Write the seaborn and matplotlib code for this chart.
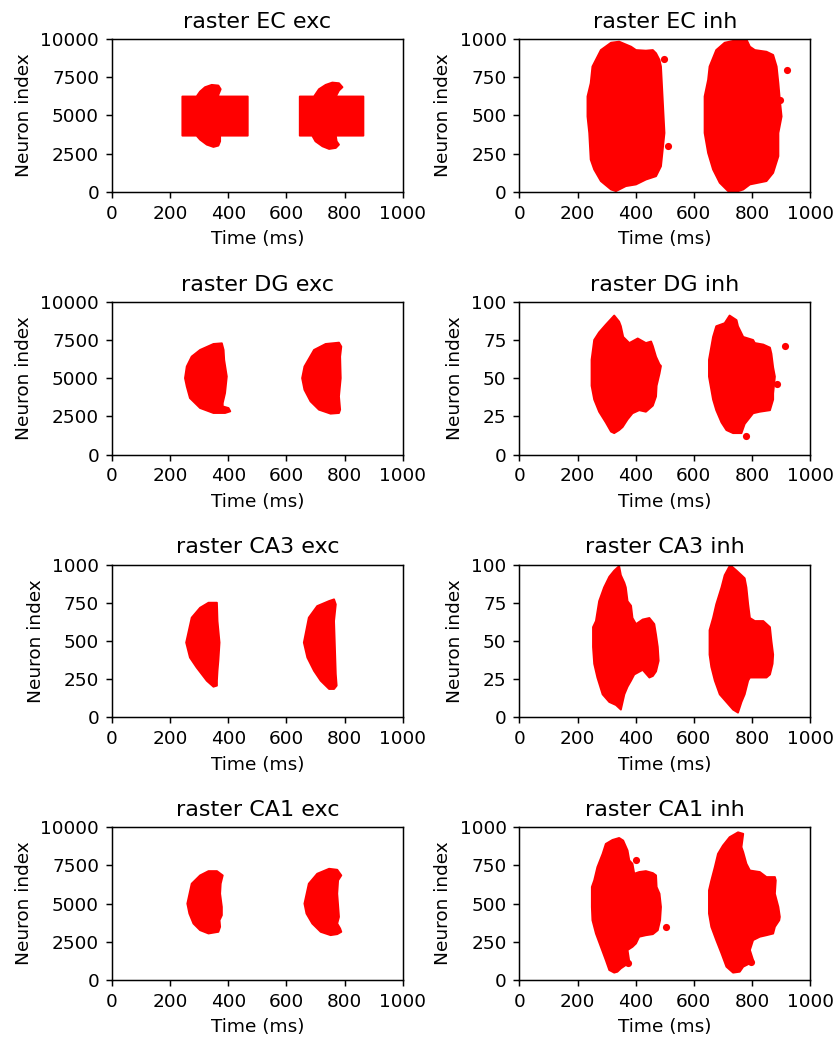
import matplotlib
matplotlib.use('Agg')
import matplotlib.pyplot as plt
import numpy as np
import seaborn as sns

# outline of each spike cloud (time ms, neuron index)
ec_exc_1 = [(242,6239),(291,6239),(303,6565),(320,6848),(343,7000),(366,6957),(374,6717),(366,6348),
            (366,6239),(467,6239),(467,3674),(372,3674),(372,3304),(366,3022),(349,2935),(326,3087),
            (303,3413),(291,3674),(242,3674)]
ec_exc_2 = [(646,6239),(695,6239),(712,6717),(735,7000),(758,7152),(781,7109),(793,6848),(781,6630),
            (770,6239),(865,6239),(865,3674),(770,3674),(773,3304),(781,3087),(770,2870),(747,2804),
            (724,2978),(700,3304),(689,3674),(646,3674)]
ec_inh_1 = [(251,820),(280,928),(315,976),(343,983),(384,950),(401,928),(435,924),(459,928),(470,907),
            (482,863),(487,820),(493,602),(499,385),(487,167),(470,102),(435,80),(401,48),(366,37),
            (332,4),(315,15),(280,70),(257,146),(245,211),(240,385),(234,493),(234,624),(245,711)]
ec_inh_2 = [(654,820),(677,928),(706,976),(747,993),(781,998),(793,950),(810,928),(850,917),(873,896),
            (885,820),(891,711),(896,602),(902,493),(891,385),(891,233),(873,124),(850,70),(793,48),
            (770,15),(747,0),(718,4),(689,59),(666,146),(649,254),(637,385),(637,624),(649,733)]
ec_inh_dots = [(499,867),(510,298),(919,798),(896,602)]

dg_exc_1 = [(251,5000),(257,5761),(274,6413),(303,6848),(349,7239),(378,7283),(384,6848),(386,6196),
            (395,5109),(389,4022),(381,3370),(381,3152),(401,3043),(407,2826),(389,2717),(349,2717),
            (303,3043),(268,3696),(257,4457)]
dg_exc_2 = [(654,5000),(662,5761),(695,6848),(735,7239),(781,7326),(789,7065),(785,6413),(787,5000),
            (781,3804),(785,2935),(781,2717),(752,2674),(712,2935),(683,3478),(662,4239)]
dg_inh_1 = [(248,62),(257,75),(274,80),(297,85),(326,91),(343,87),(349,84),(357,77),(378,73),(407,76),
            (435,73),(453,74),(459,71),(470,64),(482,59),(487,58),(482,53),(472,45),(470,38),(459,32),
            (435,28),(412,29),(389,27),(372,23),(355,18),(343,16),(326,14),(315,15),(297,21),(274,28),
            (257,36),(248,45)]
dg_inh_2 = [(652,62),(666,77),(677,84),(706,86),(723,91),(747,88),(752,84),(770,77),(804,75),(810,73),
            (839,72),(862,70),(867,66),(873,57),(879,51),(873,40),(873,36),(862,29),(827,28),(804,27),
            (775,20),(764,14),(735,14),(712,16),(695,21),(677,29),(666,36),(652,51)]
dg_inh_dots = [(914,71),(885,46),(781,12)]

ca3_exc_1 = [(255,489),(274,652),(303,717),(332,750),(361,750),(363,630),(370,489),(366,370),(363,304),
             (361,239),(361,207),(349,200),(326,239),(291,326),(268,391)]
ca3_exc_2 = [(660,489),(677,652),(706,728),(747,761),(764,772),(770,739),(764,630),(767,457),(770,283),
             (773,207),(764,185),(747,185),(718,239),(695,304),(672,391)]
ca3_inh_1 = [(253,59),(263,63),(274,76),(291,85),(309,92),(326,96),(343,99),(349,93),(361,88),(366,85),
             (372,76),(384,73),(389,65),(401,61),(424,64),(447,65),(464,61),(470,54),(476,46),(479,37),
             (470,30),(459,27),(447,26),(424,31),(395,28),(384,24),(372,20),(361,15),(355,10),(349,5),
             (332,8),(309,10),(286,15),(268,26),(257,35),(253,46)]
ca3_inh_2 = [(654,57),(666,65),(677,74),(695,85),(706,93),(723,99),(729,99),(747,96),(764,93),(775,91),
             (781,85),(787,74),(793,65),(810,63),(839,63),(862,59),(867,50),(873,41),(871,35),(862,28),
             (850,26),(827,26),(793,26),(787,24),(775,15),(764,10),(752,3),(735,5),(712,10),(689,15),
             (672,24),(660,33),(654,41)]

ca1_exc_1 = [(259,5000),(274,6304),(303,6848),(332,7130),(361,7130),(381,6848),(374,6304),(372,5652),
             (378,4783),(378,4239),(370,3913),(372,3478),(366,3152),(332,3043),(303,3261),(280,3696),
             (266,4348)]
ca1_exc_2 = [(662,5000),(677,6304),(706,6957),(747,7283),(775,7217),(789,6848),(778,6522),(775,5652),
             (781,4130),(775,3696),(785,3370),(789,3152),(775,3000),(752,2935),(718,3152),(689,3696),
             (669,4348)]
ca1_inh_1 = [(249,609),(257,652),(268,739),(286,826),(297,891),(320,917),(343,930),(357,913),(372,848),
             (378,783),(389,761),(395,696),(412,707),(435,713),(459,700),(470,685),(472,609),(482,565),
             (487,478),(484,391),(476,326),(459,300),(435,293),(412,283),(401,239),(389,217),(372,196),
             (378,120),(366,98),(349,76),(337,54),(326,48),(309,65),(297,130),(280,217),(263,304),
             (251,391),(249,478)]
ca1_inh_2 = [(652,587),(660,652),(672,739),(683,826),(700,880),(723,935),(752,967),(770,957),(764,870),
             (770,837),(781,761),(793,717),(827,707),(850,674),(879,674),(882,652),(879,565),(891,478),
             (896,413),(894,391),(879,348),(873,304),(850,293),(827,283),(804,261),(793,196),(804,130),
             (793,109),(770,87),(758,54),(735,48),(712,87),(695,174),(677,261),(660,348),(652,435)]
ca1_inh_dots = [(401,783),(505,348),(372,109),(798,120)]

titles = ['raster EC exc', 'raster EC inh', 'raster DG exc', 'raster DG inh',
          'raster CA3 exc', 'raster CA3 inh', 'raster CA1 exc', 'raster CA1 inh']
y_max = [10000, 1000, 10000, 100, 1000, 100, 10000, 1000]
blobs = [[ec_exc_1, ec_exc_2], [ec_inh_1, ec_inh_2], [dg_exc_1, dg_exc_2], [dg_inh_1, dg_inh_2],
         [ca3_exc_1, ca3_exc_2], [ca3_inh_1, ca3_inh_2], [ca1_exc_1, ca1_exc_2], [ca1_inh_1, ca1_inh_2]]
dots = [[], ec_inh_dots, [], dg_inh_dots, [], [], [], ca1_inh_dots]

dpi = 133.33
fig, axes = plt.subplots(4, 2, figsize=(836 / dpi, 1041 / dpi), dpi=dpi)
plt.subplots_adjust(left=0.134, right=0.969, bottom=0.0586, top=0.9625, wspace=0.402, hspace=0.72)

for i, ax in enumerate(axes.flat):
    for b in blobs[i]:
        b = np.array(b)
        ax.fill(b[:, 0], b[:, 1], color='red', lw=1, joinstyle='round')
    if dots[i]:
        d = np.array(dots[i])
        sns.scatterplot(x=d[:, 0], y=d[:, 1], color='red', s=15, linewidth=0, ax=ax)
    ax.set_xlim(0, 1000)
    ax.set_ylim(0, y_max[i])
    ax.set_xticks(np.arange(0, 1001, 200))
    ax.set_yticks(np.linspace(0, y_max[i], 5))
    ax.set_title(titles[i])
    ax.set_xlabel('Time (ms)')
    ax.set_ylabel('Neuron index')

plt.savefig('out.png', dpi=dpi)
